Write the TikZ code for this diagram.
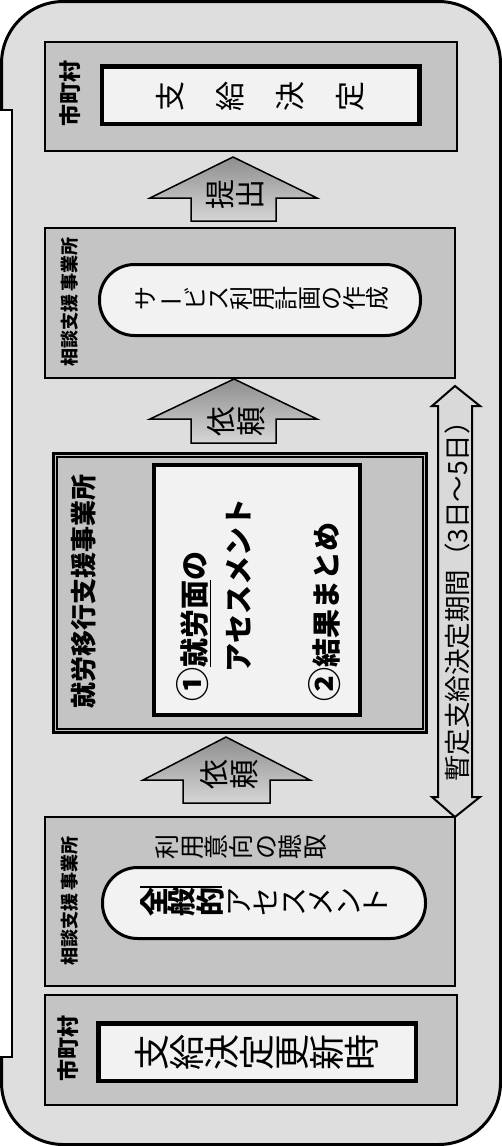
\documentclass[tikz,border=0pt]{standalone}
\usepackage{fontspec}
\setmainfont{Noto Sans CJK JP}
\usetikzlibrary{positioning}
\definecolor{panel}{HTML}{DEDEDE}
\definecolor{boxgray}{HTML}{C4C4C4}
\definecolor{cardwhite}{HTML}{F2F2F2}
\definecolor{arrowdark}{HTML}{8E8E8E}
\definecolor{arrowlight}{HTML}{D6D6D6}
\definecolor{spangray}{HTML}{D9D9D9}
\tikzset{
  office/.style={draw=black, line width=2pt, fill=boxgray, inner sep=0pt},
  roundcard/.style={draw=black, line width=3pt, fill=cardwhite, rounded corners=35pt, inner sep=0pt},
  dframe/.style={draw=black, line width=4pt, fill=cardwhite, inner sep=0pt},
  lab/.style={rotate=90, inner sep=0pt, font=\bfseries\fontsize{18}{18}\selectfont},
  tate/.style={rotate=90, align=center, inner sep=0pt},
  fat/.style={draw=black, line width=1.5pt, top color=arrowdark, bottom color=arrowlight},
}
\newcommand{\bignum}[1]{{\fontsize{34}{44}\selectfont #1}}

\begin{document}
\begin{tikzpicture}[x=1pt,y=-1pt]
\useasboundingbox (0,0) rectangle (502,1146);
%outer panel
\draw[line width=3pt, fill=panel, rounded corners=62pt] (1.5,1.5) rectangle (500.5,1144.5);
%left strip
\draw[line width=2pt, fill=white] (-5,110) rectangle (12,1057);

%municipality (top)
\node[office, minimum width=412pt, minimum height=109pt] (muniTop) at (251,96.5) {};
\node[lab, font=\bfseries\fontsize{22}{22}\selectfont] (muniTopLab) at (70,93) {市町村};
\node[dframe, minimum width=318pt, minimum height=58pt] (decide) at (260.5,95) {};
\draw[line width=0.8pt] ([shift={(4,4)}]decide.north west) rectangle ([shift={(-4,-4)}]decide.south east);
\node[tate, font=\fontsize{30}{60}\selectfont] (decideTxt) at (260,96) {支\\給\\決\\定};

%submit arrow
\draw[fat] (233,157) -- (317,198) -- (276,198) -- (276,221) -- (191,221) -- (191,198) -- (150,198) -- cycle;
\node[tate, font=\fontsize{30}{29.5}\selectfont] (submit) at (235,194) {提\\出};

%consultation office (plan)
\node[office, minimum width=410pt, minimum height=150pt] (planBox) at (250,303) {};
\node[lab] (planLab) at (70,302) {相談支援\,事業所};
\node[roundcard, minimum width=321pt, minimum height=71pt] (planCard) at (260,300) {};
\node[tate, font=\fontsize{24}{22.7}\selectfont] (planTxt) at (262,298)
  {サ\\\rotatebox[origin=c]{90}{ー}\\ビ\\ス\\利\\用\\計\\画\\の\\作\\成};

%request arrow (upper)
\draw[fat] (234,379) -- (317,419) -- (276,419) -- (276,443) -- (191,443) -- (191,419) -- (150,419) -- cycle;
\node[tate, font=\fontsize{30}{29.5}\selectfont] (askUp) at (236,421) {依\\頼};

%transition support office
\node[draw=black, line width=3pt, fill=boxgray, minimum width=373pt, minimum height=279pt, inner sep=0pt] (jobBox) at (240,593) {};
\draw[line width=1.5pt] ([shift={(5,5)}]jobBox.north west) rectangle ([shift={(-5,-5)}]jobBox.south east);
\node[lab, font=\bfseries\fontsize{26}{26}\selectfont] (jobLab) at (84,591) {就労移行支援事業所};
\node[dframe, minimum width=206pt, minimum height=250pt] (assessBox) at (257,590) {};
\node[rotate=90, align=left, inner sep=0pt, font=\bfseries\fontsize{29}{44}\selectfont] (assessTxt) at (259,600)
  {\bignum{①}\underline{就労面}の\\　アセスメント\\ \\\bignum{②}結果まとめ};

%request arrow (lower)
\draw[fat] (226,737) -- (310,780) -- (270,780) -- (270,803) -- (183,803) -- (183,780) -- (143,780) -- cycle;
\node[tate, font=\fontsize{30}{29.5}\selectfont] (askLow) at (229,774) {依\\頼};

%consultation office (hearing)
\node[office, minimum width=410pt, minimum height=169pt] (consultBox) at (250,901.5) {};
\node[lab] (consultLab) at (70,901) {相談支援\,事業所};
\node[tate, font=\fontsize{25}{24.6}\selectfont] (hearTxt) at (241,847) {利\\用\\意\\向\\の\\聴\\取};
\node[roundcard, minimum width=323pt, minimum height=71pt] (generalCard) at (264,903) {};
\node[tate, font=\fontsize{29}{27.5}\selectfont] (generalTxt) at (264,902)
  {\textbf{全}\\\textbf{般}\\\textbf{的}\\ア\\セ\\ス\\メ\\ン\\ト};
\draw[line width=1.5pt] (140,887) -- (222,887);

%municipality (bottom)
\node[office, minimum width=412pt, minimum height=110pt] (muniLow) at (251,1050) {};
\node[lab, font=\bfseries\fontsize{22}{22}\selectfont] (muniLowLab) at (68,1048) {市町村};
\node[dframe, minimum width=318pt, minimum height=58pt] (renew) at (257,1052) {};
\draw[line width=0.8pt] ([shift={(4,4)}]renew.north west) rectangle ([shift={(-4,-4)}]renew.south east);
\node[tate, font=\fontsize{36}{35}\selectfont] (renewTxt) at (257,1052) {支\\給\\決\\定\\更\\新\\時};

%provisional period
\draw[line width=2pt, fill=spangray] (455,386) -- (480,406) -- (472,406) -- (472,797) -- (480,797)
  -- (455,817) -- (432,797) -- (438,797) -- (438,406) -- (432,406) -- cycle;
\node[rotate=90, inner sep=0pt, font=\fontsize{26.5}{26.5}\selectfont] (period) at (457,595) {暫定支給決定期間（3日～5日）};
\end{tikzpicture}
\end{document}
